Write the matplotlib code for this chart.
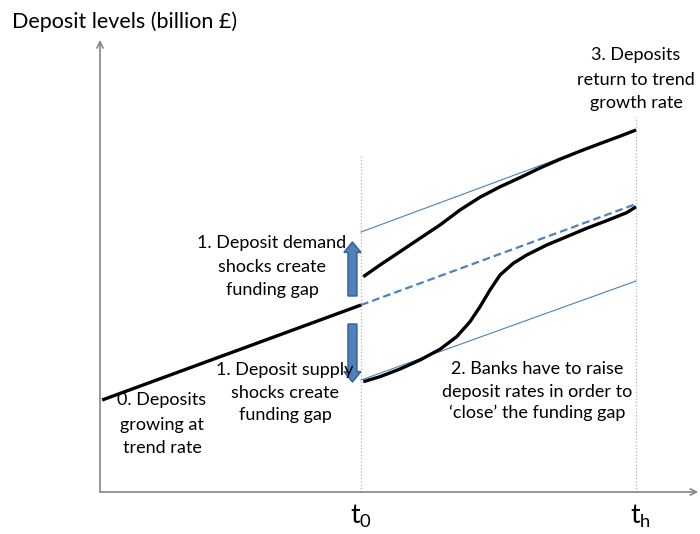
import matplotlib
matplotlib.use('agg')
import matplotlib.pyplot as plt
from matplotlib.patches import FancyArrow

plt.rcParams['font.family'] = ['Lato', 'DejaVu Sans']
plt.rcParams['mathtext.fontset'] = 'custom'
plt.rcParams['mathtext.rm'] = 'Lato'

# time axis (t0 = shock, th = horizon) and deposit levels, arbitrary units
t0 = 4.87
th = 10.0

trend_t = [0.04, t0]
trend_level = [23.0, 46.75]

# counterfactual trend after the shock (dashed)
cf_t = [t0, th]
cf_level = [46.75, 72.0]

# thin guide lines parallel to trend
upper_guide_t = [t0, th]
upper_guide_level = [65.0, 90.5]
lower_guide_t = [t0, th]
lower_guide_level = [28.0, 52.75]

# demand shock path
demand_t = [4.912, 5.224, 5.597, 5.970, 6.343, 6.716, 7.090, 7.463, 7.836,
            8.209, 8.582, 8.955, 9.328, 9.701, 10.0]
demand_level = [53.83, 56.75, 60.08, 63.43, 66.75, 70.5, 73.7, 76.3, 78.6,
                81.0, 83.2, 85.2, 87.1, 88.95, 90.5]

# supply shock path
supply_t = [4.912, 5.224, 5.597, 5.970, 6.343, 6.655, 6.903, 7.090, 7.276,
            7.463, 7.711, 7.961, 8.334, 8.707, 9.080, 9.453, 9.826, 10.0]
supply_level = [27.58, 28.83, 30.75, 33.0, 35.68, 38.83, 42.58, 46.33, 50.5,
                54.25, 57.18, 59.25, 61.75, 63.83, 65.93, 67.83, 69.83, 71.3]

# shock arrows: (from, to)
shock_arrow_t = 4.71
demand_arrow = (49.0, 62.5)
supply_arrow = (42.0, 27.5)

t0_top = 84.25
th_top = 93.75
y_axis_top = 113.0
x_axis_end = 11.16

blue = '#4f81bd'
gray = '#868686'
fs = 13

fig = plt.figure(figsize=(7, 5.34), dpi=100)
ax = fig.add_axes([0, 0, 1, 1])
ax.set_xlim(-1.866, 11.194)
ax.set_ylim(-10.5, 123)
ax.axis('off')

# axes with open arrow heads
ax.annotate('', xy=(0, y_axis_top), xytext=(0, 0),
            arrowprops=dict(arrowstyle='->', color=gray, lw=1.2, mutation_scale=11, shrinkA=0, shrinkB=0))
ax.annotate('', xy=(x_axis_end, 0), xytext=(0, 0),
            arrowprops=dict(arrowstyle='->', color=gray, lw=1.2, mutation_scale=11, shrinkA=0, shrinkB=0))

# vertical time markers
ax.plot([t0, t0], [0, t0_top], color='#9bbbd9', lw=0.9, ls=':')
ax.plot([th, th], [0, th_top], color='#9bbbd9', lw=0.9, ls=':')

ax.plot(upper_guide_t, upper_guide_level, color=blue, lw=0.8)
ax.plot(lower_guide_t, lower_guide_level, color=blue, lw=0.8)
ax.plot(cf_t, cf_level, color=blue, lw=1.6, dashes=(3.5, 1.8))

for xs, ys in [(trend_t, trend_level), (demand_t, demand_level), (supply_t, supply_level)]:
    ax.plot(xs, ys, color='black', lw=2.4, solid_capstyle='butt', solid_joinstyle='round')

for a, b in [demand_arrow, supply_arrow]:
    ax.add_patch(FancyArrow(shock_arrow_t, a, 0, b - a, width=0.168, head_width=0.32,
                            head_length=2.6, length_includes_head=True,
                            facecolor=blue, edgecolor='#385d8a', lw=1.0))


def lines(x, ys, txt, ha='center'):
    for y, s in zip(ys, txt):
        ax.text(x, y, s, ha=ha, va='center', fontsize=fs, color='black')


ax.text(-1.642, 117.5, 'Deposit levels (billion £)', ha='left', va='center', fontsize=15.5)
lines(3.209, [62.25, 56.25, 50.5], ['1. Deposit demand', 'shocks create', 'funding gap'])
lines(3.451, [30.5, 24.75, 19.25], ['1. Deposit supply', 'shocks create', 'funding gap'])
lines(1.157, [23.0, 16.75, 11.0], ['0. Deposits', 'growing at', 'trend rate'])
lines(8.153, [30.75, 25.0, 19.75], ['2. Banks have to raise', 'deposit rates in order to',
                                   '\u2018close\u2019 the funding gap'])
lines(10.0, [109.25, 103.0, 97.25], ['3. Deposits', 'return to trend', 'growth rate'])

ax.text(t0 - 0.2, -6.0, r'$\mathregular{t_0}$', ha='left', va='center', fontsize=19)
ax.text(th - 0.12, -6.0, r'$\mathregular{t_h}$', ha='left', va='center', fontsize=19)

fig.savefig('out.png', dpi=100)
